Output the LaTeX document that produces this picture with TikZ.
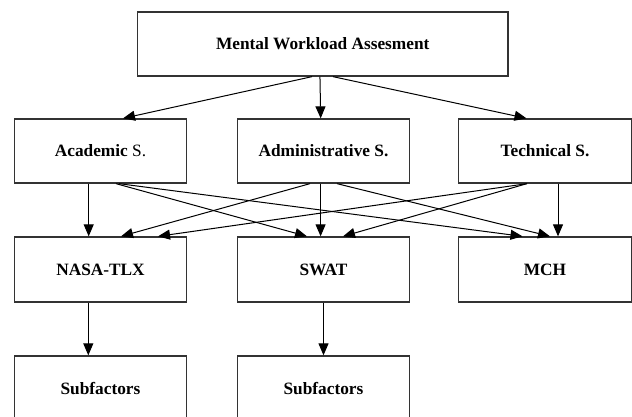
\documentclass[tikz,border=0pt]{standalone}
\usepackage{fontspec}
\setmainfont{Liberation Serif}
\usetikzlibrary{arrows.meta}
\begin{document}
\begin{tikzpicture}[x=1pt,y=-1pt,
  box/.style={draw=black!80,line width=1.3pt,fill=white,inner sep=0pt,
    font=\fontsize{17.3}{20}\selectfont\bfseries,minimum height=64pt,minimum width=172.5pt},
  conn/.style={draw=black,line width=1pt,-{Triangle[length=12pt,width=10pt]}}]
\useasboundingbox (0,0) rectangle (632,417);
\clip (0,0) rectangle (632,417);
% nodes
\node[box,minimum width=370.5pt] (top) at (322.75,44) {Mental Workload Assesment};
\node[box] (acad) at (100.5,151) {Academic \textmd{S.}};
\node[box] (admin) at (323.5,151) {Administrative S.};
\node[box] (tech) at (545,151) {Technical S.};
\node[box,minimum height=65pt] (nasa) at (100.5,269.5) {NASA-TLX};
\node[box,minimum height=65pt] (swat) at (323.5,269.5) {SWAT};
\node[box,minimum height=65pt] (mch) at (545,269.5) {MCH};
\node[box,minimum height=65pt] (sub1) at (100.5,388.5) {Subfactors};
\node[box,minimum height=65pt] (sub2) at (323.5,388.5) {Subfactors};
% top to row 2
\draw[conn] ([xshift=-10.75pt]top.south) -- ([xshift=22.5pt]acad.north);
\draw[conn] ([xshift=-2.8pt]top.south) -- ([xshift=-2.8pt]admin.north);
\draw[conn] ([xshift=10.25pt]top.south) -- ([xshift=-18.5pt]tech.north);
% row 2 to row 3
\draw[conn] ([xshift=-11.8pt]acad.south) -- ([xshift=-11.8pt]nasa.north);
\draw[conn] ([xshift=15.5pt]acad.south) -- ([xshift=-16.5pt]swat.north);
\draw[conn] ([xshift=18.5pt]acad.south) -- ([xshift=-22.5pt]mch.north);
\draw[conn] ([xshift=-13.5pt]admin.south) -- ([xshift=20.5pt]nasa.north);
\draw[conn] ([xshift=-2.9pt]admin.south) -- ([xshift=-2.9pt]swat.north);
\draw[conn] ([xshift=13.5pt]admin.south) -- ([xshift=5pt]mch.north);
\draw[conn] ([xshift=-18pt]tech.south) -- ([xshift=57.5pt]nasa.north);
\draw[conn] ([xshift=-18pt]tech.south) -- ([xshift=19.5pt]swat.north);
\draw[conn] ([xshift=13pt]tech.south) -- ([xshift=13pt]mch.north);
% row 3 to row 4
\draw[conn] ([xshift=-12.2pt]nasa.south) -- ([xshift=-12.2pt]sub1.north);
\draw[conn] ([xshift=0pt]swat.south) -- ([xshift=0pt]sub2.north);
\end{tikzpicture}
\end{document}
